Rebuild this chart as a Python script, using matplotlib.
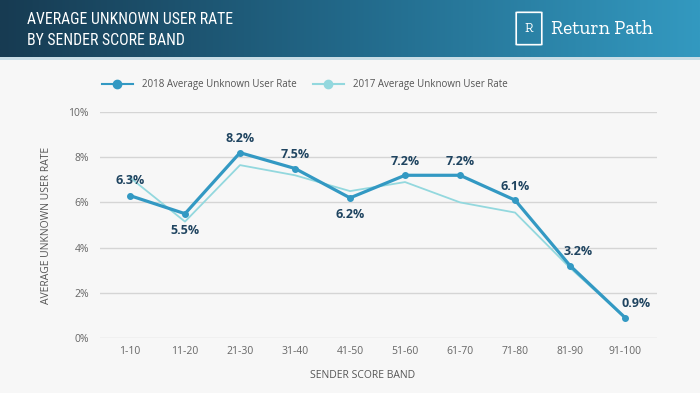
import numpy as np
import matplotlib
matplotlib.use("Agg")
import matplotlib.pyplot as plt
from matplotlib.patches import FancyBboxPatch, Rectangle
from matplotlib.lines import Line2D
from matplotlib.colors import LinearSegmentedColormap

categories = ["1-10", "11-20", "21-30", "31-40", "41-50", "51-60", "61-70", "71-80", "81-90", "91-100"]
rate_2018 = [6.3, 5.5, 8.2, 7.5, 6.2, 7.2, 7.2, 6.1, 3.2, 0.9]
rate_2017 = [7.1, 5.15, 7.65, 7.2, 6.5, 6.9, 6.0, 5.55, 3.1, 0.9]
yticks = [0, 2, 4, 6, 8, 10]
ytick_labels = ["0%", "2%", "4%", "6%", "8%", "10%"]
label_offsets = [(0, 11), (0, -12), (0, 10), (0, 10), (0, -12), (0, 10), (0, 10), (0, 10), (6, 10), (8, 10)]

plt.rcParams['font.family'] = ['Open Sans', 'DejaVu Sans']

W, H = 700, 393
fig = plt.figure(figsize=(W / 100, H / 100), dpi=100)
fig.patch.set_facecolor("#f7f7f7")

# header gradient
hax = fig.add_axes([0, 1 - 57 / H, 1, 57 / H])
grad = np.linspace(0, 1, 256).reshape(1, -1)
cmap = LinearSegmentedColormap.from_list("hdr", ["#173b52", "#22698a", "#3399c0"])
hax.imshow(grad, aspect="auto", cmap=cmap, extent=[0, 1, 0, 1])
hax.set_xlim(0, 1); hax.set_ylim(0, 1)
hax.axis("off")
title_font = ["Roboto Condensed", "Roboto", "DejaVu Sans"]
hax.text(27 / W, 0.66, "AVERAGE UNKNOWN USER RATE", color="white", fontsize=11.3,
         family=title_font, fontweight="normal", va="center", ha="left", transform=hax.transAxes)
hax.text(27 / W, 0.29, "BY SENDER SCORE BAND", color="white", fontsize=11.3,
         family=title_font, fontweight="normal", va="center", ha="left", transform=hax.transAxes)
# logo
hax.add_patch(FancyBboxPatch((519 / W, 0.22), 20 / W, 0.56, boxstyle="round,pad=0.004",
                             fill=False, ec="white", lw=1.2, transform=hax.transAxes))
hax.text(529 / W, 0.5, "R", color="white", fontsize=10, ha="center", va="center",
         family=["Zilla Slab", "DejaVu Serif"], transform=hax.transAxes)
hax.text(551 / W, 0.5, "Return Path", color="white", fontsize=14, ha="left", va="center",
         family=["Zilla Slab", "DejaVu Serif"], transform=hax.transAxes)
# thin line below header
fig.add_artist(Rectangle((0, 1 - 60 / H), 1, 3 / H, transform=fig.transFigure,
                         color="#c9dde6", lw=0))

# main axes
ax = fig.add_axes([100 / W, 1 - 338 / H, 557 / W, 226 / H])
ax.set_facecolor("#f7f7f7")
x = np.arange(len(categories))
ax.plot(x, rate_2017, color="#93d8de", lw=1.3, zorder=2,
        label="2017 Average Unknown User Rate")
ax.plot(x, rate_2018, color="#3399c3", lw=2.3, marker="o", markersize=4, zorder=3,
        label="2018 Average Unknown User Rate")
for xi, v, off in zip(x, rate_2018, label_offsets):
    ax.annotate(f"{v:.1f}%", (xi, v), xytext=off, textcoords="offset points",
                ha="center", va="center", fontsize=9, fontweight="bold", color="#1f4460")

ax.set_xlim(-0.545, 9.58)
ax.set_ylim(0, 10)
ax.set_yticks(yticks)
ax.set_yticklabels(ytick_labels)
ax.set_xticks(x)
ax.set_xticklabels(categories)
ax.tick_params(length=0, labelsize=7.5, labelcolor="#666666")
ax.tick_params(axis="y", pad=8)
ax.tick_params(axis="x", pad=6)
ax.grid(axis="y", color="#d5d5d5", lw=1)
for s in ax.spines.values():
    s.set_visible(False)
ax.set_axisbelow(True)

fig.text(363 / W, 1 - 375 / H, "SENDER SCORE BAND", ha="center", va="center",
         fontsize=7.5, color="#555555")
fig.text(47 / W, 1 - 225 / H, "AVERAGE UNKNOWN USER RATE", ha="center", va="center",
         rotation=90, fontsize=7.5, color="#555555")

# legend drawn manually in figure coords
ly = 1 - 84 / H
fig.add_artist(Line2D([102 / W, 133 / W], [ly, ly], color="#3399c3", lw=1.5,
                      transform=fig.transFigure))
fig.add_artist(Line2D([117 / W], [ly], color="#3399c3", marker="o", markersize=6,
                      transform=fig.transFigure))
fig.text(142 / W, ly, "2018 Average Unknown User Rate", fontsize=7, color="#555555", va="center")
fig.add_artist(Line2D([313 / W, 344 / W], [ly, ly], color="#93d8de", lw=1.5,
                      transform=fig.transFigure))
fig.add_artist(Line2D([328 / W], [ly], color="#93d8de", marker="o", markersize=6,
                      transform=fig.transFigure))
fig.text(353 / W, ly, "2017 Average Unknown User Rate", fontsize=7, color="#555555", va="center")

fig.savefig("out.png", dpi=100, facecolor=fig.get_facecolor())
